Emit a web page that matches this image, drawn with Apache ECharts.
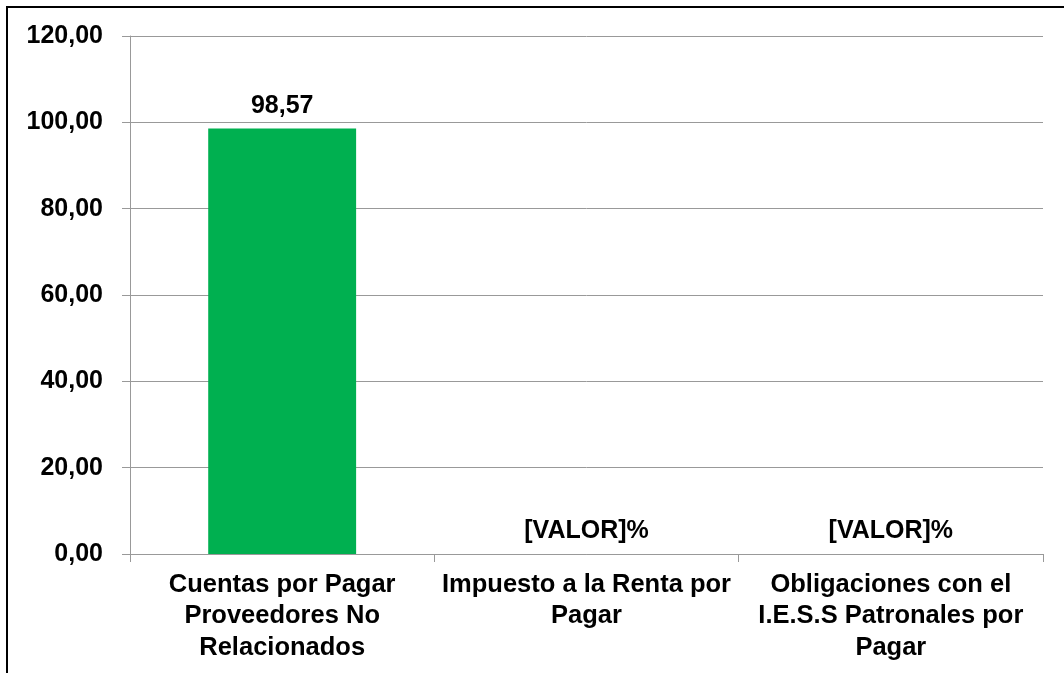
<!DOCTYPE html>
<html>
<head>
<meta charset="utf-8">
<script src="https://cdn.jsdelivr.net/npm/echarts@6/dist/echarts.min.js"></script>
<style>
  html, body { margin: 0; padding: 0; background: #fff; }
  #chart { width: 1064px; height: 673px; }
</style>
</head>
<body>
<div id="chart"></div>
<script>
var categories = [
  "Cuentas por Pagar\nProveedores No\nRelacionados",
  "Impuesto a la Renta por\nPagar",
  "Obligaciones con el\nI.E.S.S Patronales por\nPagar"
];
var values = [98.57, 0, 0];
var valueLabels = ["98,57", "[VALOR]%", "[VALOR]%"];

var myChart = echarts.init(document.getElementById("chart"));

var option = {
  animation: false,
  textStyle: { fontFamily: "Liberation Sans, Arial, sans-serif" },
  graphic: [
    {
      type: "rect",
      shape: { x: 7, y: 7, width: 1200, height: 800 },
      style: { fill: "none", stroke: "#000", lineWidth: 2 }
    }
  ],
  grid: { left: 130, right: 21, top: 36, bottom: 119 },
  xAxis: {
    type: "category",
    data: categories,
    axisLine: { lineStyle: { color: "#999", width: 1 } },
    axisTick: { show: true, length: 8, lineStyle: { color: "#999" } },
    axisLabel: {
      color: "#000",
      fontSize: 25.5,
      fontWeight: "bold",
      lineHeight: 31.5,
      margin: 15,
      interval: 0
    }
  },
  yAxis: {
    type: "value",
    min: 0,
    max: 120,
    interval: 20,
    axisLine: { show: true, lineStyle: { color: "#999", width: 1 } },
    axisTick: { show: true, length: 8, inside: false, lineStyle: { color: "#999" } },
    splitLine: { lineStyle: { color: "#999", width: 1 } },
    axisLabel: {
      color: "#000",
      fontSize: 25,
      fontWeight: "bold",
      margin: 27,
      formatter: function (v) { return v.toFixed(2).replace(".", ","); }
    }
  },
  series: [
    {
      type: "bar",
      data: values,
      barWidth: "48.6%",
      itemStyle: { color: "#00B050" },
      label: {
        show: true,
        position: "top",
        distance: 10,
        color: "#000",
        fontSize: 25,
        fontWeight: "bold",
        formatter: function (p) { return valueLabels[p.dataIndex]; }
      }
    }
  ]
};

myChart.setOption(option);
</script>
</body>
</html>
